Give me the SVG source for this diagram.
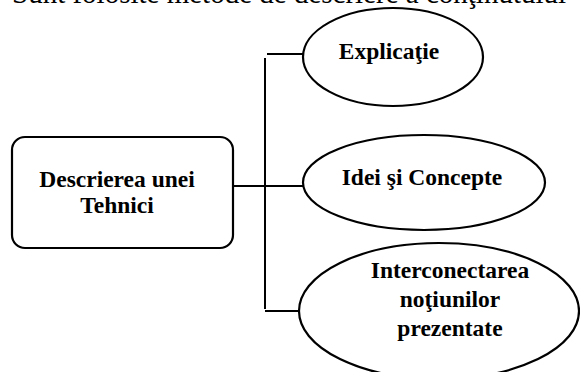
<svg xmlns="http://www.w3.org/2000/svg" width="580" height="372" viewBox="0 0 580 372">
<style>
.shape{fill:#fff;stroke:#000;stroke-width:2.2}
.lbl{font-family:"Liberation Serif","Times New Roman",serif;font-weight:bold;font-size:23.5px;fill:#000;text-anchor:middle}
.top{font-family:"Liberation Serif","Times New Roman",serif;font-size:29px;fill:#000}
.conn{stroke:#000;stroke-width:2;fill:none}
</style>
<rect width="580" height="372" fill="#fff"/>
<text class="top" x="12" y="3">Sunt folosite metode de descriere a conţinutului</text>
<g id="connectors">
<line class="conn" x1="229" y1="186" x2="305" y2="186"/>
<line class="conn" x1="265" y1="58" x2="265" y2="309"/>
<line class="conn" x1="267" y1="54" x2="303" y2="54"/>
<line class="conn" x1="265" y1="311" x2="300" y2="311"/>
</g>
<g id="node-descrierea">
<rect class="shape" x="12" y="137" width="221" height="111" rx="13"/>
<text class="lbl" x="117" y="187">Descrierea unei</text>
<text class="lbl" x="117" y="213">Tehnici</text>
</g>
<g id="node-explicatie">
<ellipse class="shape" cx="393" cy="57" rx="90" ry="49"/>
<text class="lbl" x="389" y="59">Explicaţie</text>
</g>
<g id="node-idei">
<ellipse class="shape" cx="424" cy="182.5" rx="121" ry="47.5"/>
<text class="lbl" x="422" y="185">Idei şi Concepte</text>
</g>
<g id="node-interconectarea">
<ellipse class="shape" cx="439" cy="311" rx="140" ry="68"/>
<text class="lbl" x="450" y="278">Interconectarea</text>
<text class="lbl" x="450" y="307">noţiunilor</text>
<text class="lbl" x="450" y="336">prezentate</text>
</g>
</svg>
